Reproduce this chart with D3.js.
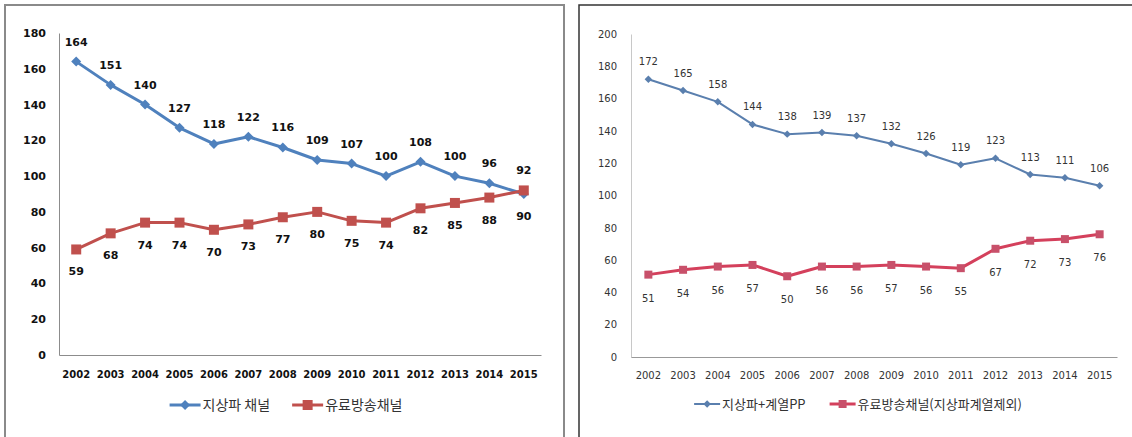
<!DOCTYPE html>
<html>
<head>
<meta charset="utf-8">
<script src="https://cdn.jsdelivr.net/npm/d3@7"></script>
<style>
  body { margin: 0; background: #fff; }
  svg { display: block; }
</style>
</head>
<body>
<svg id="chart" width="1132" height="437"></svg>
<script>
// data
var years = ['2002','2003','2004','2005','2006','2007','2008','2009','2010','2011','2012','2013','2014','2015'];

var leftTerrestrial = [164,151,140,127,118,122,116,109,107,100,108,100,96,90];
var leftPaid        = [59,68,74,74,70,73,77,80,75,74,82,85,88,92];
var leftTicks       = [0,20,40,60,80,100,120,140,160,180];
var leftNames       = ['지상파 채널','유료방송채널'];

var rightTerrestrial = [172,165,158,144,138,139,137,132,126,119,123,113,111,106];
var rightPaid        = [51,54,56,57,50,56,56,57,56,55,67,72,73,76];
var rightTicks       = [0,20,40,60,80,100,120,140,160,180,200];
var rightNames       = ['지상파+계열PP','유료방송채널(지상파계열제외)'];

var svg = d3.select('#chart');

function drawPanel(o) {
  var g = svg.append('g');

  // frame
  g.append('rect')
    .attr('x', o.frame[0]).attr('y', o.frame[1])
    .attr('width', o.frame[2]).attr('height', o.frame[3])
    .attr('fill', 'none')
    .attr('stroke', o.frameColor)
    .attr('stroke-width', o.frameWidth);

  var x = d3.scaleBand().domain(years).range([o.left, o.right]);
  var y = d3.scaleLinear().domain([0, d3.max(o.ticks)]).range([o.bottom, o.top]);
  var cx = function(i) { return x(years[i]) + x.bandwidth() / 2; };

  // y axis
  var ya = g.append('g')
    .attr('transform', 'translate(' + o.left + ',0)')
    .call(d3.axisLeft(y).tickValues(o.ticks).tickSize(0).tickPadding(o.yPad));
  ya.select('.domain').attr('stroke', o.yAxisColor);
  ya.selectAll('text')
    .style('font-family', o.font).style('font-size', o.tickSize + 'px')
    .style('font-weight', o.tickWeight).attr('fill', o.textColor);

  // x axis
  var xa = g.append('g')
    .attr('transform', 'translate(0,' + o.bottom + ')')
    .call(d3.axisBottom(x).tickSize(0).tickPadding(o.xPad));
  xa.select('.domain').attr('stroke', o.xAxisColor);
  xa.selectAll('text')
    .style('font-family', o.font).style('font-size', o.xTickSize + 'px')
    .style('font-weight', o.tickWeight).attr('fill', o.textColor);

  var series = o.series;
  series.forEach(function(s, k) {
    var other = series[1 - k].values;
    var line = d3.line()
      .x(function(d, i) { return cx(i); })
      .y(function(d) { return y(d); });

    g.append('path')
      .datum(s.values)
      .attr('d', line)
      .attr('fill', 'none')
      .attr('stroke', s.color)
      .attr('stroke-width', s.width)
      .attr('stroke-linejoin', 'round');

    g.selectAll('.m' + k)
      .data(s.values)
      .enter()
      .append('path')
      .attr('class', 'm' + k)
      .attr('d', d3.symbol().type(d3.symbolSquare).size(s.markerSize))
      .attr('transform', function(d, i) {
        return 'translate(' + cx(i) + ',' + y(d) + ')' + (s.diamond ? ' rotate(45)' : '');
      })
      .attr('fill', s.markerColor);

    // value labels: above when this series is the higher one, below otherwise
    g.selectAll('.v' + k)
      .data(s.values)
      .enter()
      .append('text')
      .attr('class', 'v' + k)
      .attr('x', function(d, i) { return cx(i); })
      .attr('y', function(d, i) {
        return d >= other[i] ? y(d) - o.above : y(d) + o.below;
      })
      .attr('text-anchor', 'middle')
      .style('font-family', o.font)
      .style('font-size', o.labelSize + 'px')
      .style('font-weight', o.tickWeight)
      .attr('fill', o.textColor)
      .text(function(d) { return d; });
  });

  // legend
  var lg = g.append('g').attr('transform', 'translate(0,' + o.legendY + ')');
  var pos = 0;
  var items = [];
  series.forEach(function(s, k) {
    var it = lg.append('g');
    it.append('line')
      .attr('x1', 0).attr('x2', o.legendLine)
      .attr('stroke', s.color).attr('stroke-width', s.width);
    it.append('path')
      .attr('d', d3.symbol().type(d3.symbolSquare).size(s.markerSize))
      .attr('transform', 'translate(' + o.legendLine / 2 + ',0)' + (s.diamond ? ' rotate(45)' : ''))
      .attr('fill', s.markerColor);
    var t = it.append('text')
      .attr('x', o.legendLine + 2)
      .attr('dy', '0.35em')
      .style('font-family', '"Noto Sans CJK KR", "Noto Sans", sans-serif')
      .style('font-size', o.legendSize + 'px')
      .attr('fill', o.legendColor)
      .text(s.name);
    var w = o.legendLine + 2 + t.node().getComputedTextLength();
    items.push({ g: it, x: pos });
    pos += w + o.legendGap;
  });
  var total = pos - o.legendGap;
  var start = o.legendCenter - total / 2;
  items.forEach(function(it) {
    it.g.attr('transform', 'translate(' + (start + it.x) + ',0)');
  });
}

drawPanel({
  frame: [5, 5, 559, 460], frameColor: '#8a8a8a', frameWidth: 2,
  left: 59, right: 541, top: 33, bottom: 355,
  ticks: leftTicks,
  yPad: 13, xPad: 16,
  yAxisColor: '#8c8c8c', xAxisColor: '#8c8c8c',
  font: '"DejaVu Sans", Verdana, sans-serif',
  tickSize: 11, xTickSize: 10, labelSize: 11, tickWeight: 'bold',
  textColor: '#111',
  above: 16, below: 26,
  legendY: 405, legendCenter: 286, legendLine: 31, legendGap: 22,
  legendSize: 14, legendColor: '#333',
  series: [
    { name: leftNames[0], values: leftTerrestrial, color: '#4f81bd', markerColor: '#4f81bd',
      width: 3, markerSize: 50, diamond: true },
    { name: leftNames[1], values: leftPaid, color: '#c0504d', markerColor: '#c0504d',
      width: 3, markerSize: 100, diamond: false }
  ]
});

drawPanel({
  frame: [579, 5, 600, 460], frameColor: '#333', frameWidth: 1.5,
  left: 631, right: 1117, top: 34, bottom: 357,
  ticks: rightTicks,
  yPad: 14, xPad: 15,
  yAxisColor: '#c8c8c8', xAxisColor: '#999',
  font: '"DejaVu Sans", sans-serif',
  tickSize: 10, xTickSize: 10, labelSize: 10, tickWeight: 'normal',
  textColor: '#333',
  above: 14, below: 27,
  legendY: 404, legendCenter: 858, legendLine: 26, legendGap: 24,
  legendSize: 13, legendColor: '#333',
  series: [
    { name: rightNames[0], values: rightTerrestrial, color: '#5a7fae', markerColor: '#5a7fae',
      width: 2, markerSize: 28, diamond: true },
    { name: rightNames[1], values: rightPaid, color: '#d4405c', markerColor: '#c8506a',
      width: 3, markerSize: 64, diamond: false }
  ]
});
</script>
</body>
</html>
